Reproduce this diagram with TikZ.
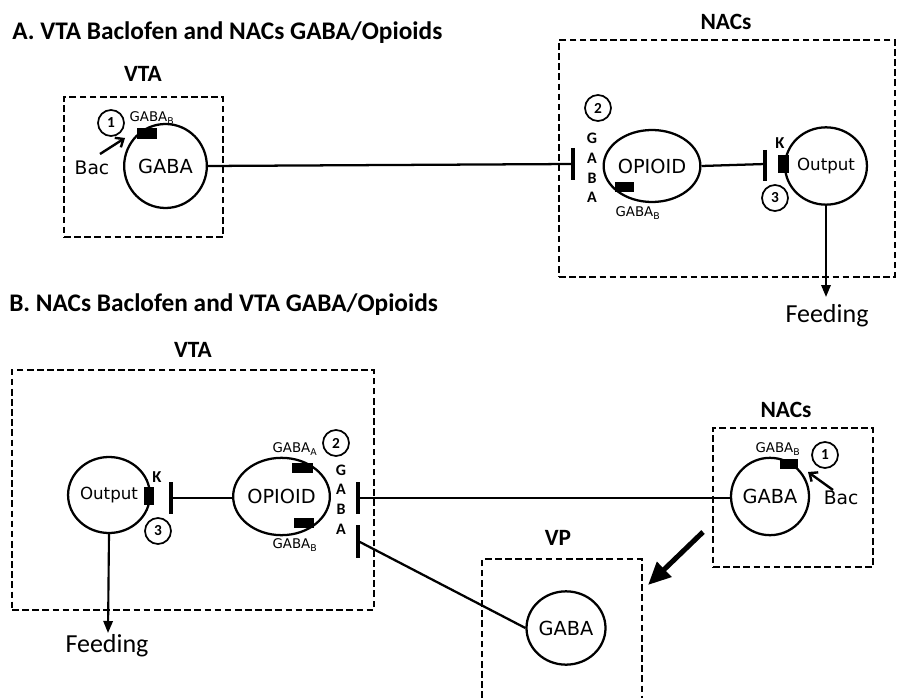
\documentclass[tikz,border=0pt]{standalone}
\usepackage{fontspec}
\setmainfont{DejaVu Sans}
\newfontfamily\calfont{Carlito}
\usetikzlibrary{shapes.geometric,arrows.meta}
\begin{document}
\begin{tikzpicture}[x=0.75pt,y=-0.75pt,
  region/.style={draw, line width=1.6pt, dash pattern=on 5pt off 2.6pt, rectangle, inner sep=0pt},
  cell/.style={draw, ellipse, line width=1.7pt, inner sep=0pt, font=\fontsize{14.5}{16}\selectfont},
  outcell/.style={cell, font=\fontsize{12.5}{14}\selectfont},
  rcpt/.style={fill=black, rectangle, inner sep=0pt},
  num/.style={draw, circle, line width=1.3pt, minimum size=19.5pt, inner sep=0pt, font=\calfont\bfseries\fontsize{11.5}{12}\selectfont},
  title/.style={anchor=west, inner sep=0pt, font=\calfont\bfseries\fontsize{19}{21}\selectfont},
  area/.style={inner sep=0pt, font=\calfont\bfseries\fontsize{17.5}{19}\selectfont},
  small/.style={inner sep=0pt, font=\fontsize{10}{11}\selectfont},
  letters/.style={inner sep=0pt, align=center, font=\calfont\bfseries\fontsize{12}{14.8}\selectfont},
  ktxt/.style={inner sep=0pt, font=\calfont\bfseries\fontsize{12.5}{13}\selectfont},
  body/.style={inner sep=0pt, font=\fontsize{14}{16}\selectfont},
  feed/.style={inner sep=0pt, font=\calfont\fontsize{19.5}{21}\selectfont},
  conn/.style={line width=1.7pt},
  bar/.style={line width=2.3pt},
  feedarrow/.style={line width=1.6pt, -{Triangle[length=9pt,width=7pt]}},
  bacarrow/.style={line width=1.8pt, -{Straight Barb[length=5pt,width=8.5pt]}},
  bigarrow/.style={line width=3.8pt, -{Triangle[length=17pt,width=15pt]}},
]
\useasboundingbox (0,0) rectangle (912,698);

% ================= A =================
\node[title] (titleA) at (12,33) {A. VTA Baclofen and NACs GABA/Opioids};

% VTA (A)
\node[area] (vtaAlab) at (143,74) {VTA};
\node[region, minimum width=119.25pt, minimum height=105pt] (vtaA) at (143.5,167) {};
\node[cell, minimum width=62pt, minimum height=63pt] (gabaA) at (165.5,166) {GABA};
\node[rcpt, minimum width=15pt, minimum height=8.25pt] (recA1) at (147,133.5) {};
\node[small] (gbA1) at (152,118) {GABA\textsubscript{B}};
\node[num] (n1A) at (111,123) {1};
\node[body] (bacA) at (92,168) {Bac};
\coordinate (bacAtip) at (125,138);
\draw[bacarrow] (100,154) -- (bacAtip);

% NACs (A)
\node[area] (nacAlab) at (726,22) {NACs};
\node[region, minimum width=252pt, minimum height=177.75pt] (nacA) at (727,158.5) {};
\coordinate (barA1) at (573,164);
\draw[bar] (573,148) -- (573,180);
\draw[conn] (gabaA.east) -- (barA1);
\node[num] (n2A) at (598,108) {2};
\node[letters] (lettersA) at (592,168) {G\\A\\B\\A};
\node[cell, minimum width=60pt, minimum height=54pt] (opA) at (652,166) {OPIOID};
\node[rcpt, minimum width=14.25pt, minimum height=7.5pt] (recA2) at (624.5,187) {};
\node[small] (gbA2) at (638,213) {GABA\textsubscript{B}};
\coordinate (barA2) at (765,164);
\draw[bar] (765,150) -- (765,181);
\draw[conn] (opA.east) -- (barA2);
\node[ktxt] (kA) at (780,143) {K};
\node[rcpt, minimum width=8.25pt, minimum height=13.5pt] (recA3) at (783.5,164) {};
\node[outcell, minimum width=60pt, minimum height=58pt] (outA) at (826,166) {Output};
\node[num] (n3A) at (775,198) {3};
\node[feed] (feedA) at (827,316) {Feeding};
\coordinate (feedAtip) at (826,297);
\draw[feedarrow] (outA.south) -- (feedAtip);

% ================= B =================
\node[title] (titleB) at (9,305) {B. NACs Baclofen and VTA GABA/Opioids};

% VTA (B)
\node[area] (vtaBlab) at (193,350) {VTA};
\node[region, minimum width=271.5pt, minimum height=180pt] (vtaB) at (193,490) {};
\node[outcell, minimum width=59pt, minimum height=57pt] (outB) at (109,495) {Output};
\node[rcpt, minimum width=7.5pt, minimum height=13.5pt] (recB3) at (149,496) {};
\node[ktxt] (kB) at (157,477) {K};
\node[num] (n3B) at (158,531) {3};
\node[cell, minimum width=58pt, minimum height=58pt] (opB) at (281.5,496.5) {OPIOID};
\coordinate (barB1) at (171,498);
\draw[bar] (171,482) -- (171,514);
\draw[conn] (barB1) -- (opB.west |- barB1);
\node[rcpt, minimum width=15.75pt, minimum height=7.5pt] (recB1) at (302.5,468) {};
\node[rcpt, minimum width=15pt, minimum height=7.5pt] (recB2) at (304,523) {};
\node[small] (gbB1) at (295,449) {GABA\textsubscript{A}};
\node[small] (gbB2) at (295,545) {GABA\textsubscript{B}};
\node[num] (n2B) at (336,443) {2};
\node[letters] (lettersB) at (341,499.5) {G\\A\\B\\A};
\coordinate (barB2) at (358,498);
\draw[bar] (358,482) -- (358,514);
\coordinate (barB3) at (358,541);
\draw[bar] (358,525) -- (358,558);

% NACs (B)
\node[area] (nacBlab) at (786,410) {NACs};
\node[region, minimum width=120pt, minimum height=104.25pt] (nacB) at (793,497.5) {};
\node[cell, minimum width=58.5pt, minimum height=58pt] (gabaB) at (770,496.5) {GABA};
\node[rcpt, minimum width=14pt, minimum height=7.5pt] (recB4) at (789,463.5) {};
\node[small] (gbB3) at (778,449) {GABA\textsubscript{B}};
\node[num] (n1B) at (825,455) {1};
\node[body] (bacB) at (841,498) {Bac};
\coordinate (bacBtip) at (808,472);
\draw[bacarrow] (833,490) -- (bacBtip);
\draw[conn] (barB2) -- (gabaB.west |- barB2);

% VP
\node[area] (vplab) at (558,538) {VP};
\draw[line width=1.6pt, dash pattern=on 5pt off 2.6pt] (482,698) -- (482,559) -- (642,559) -- (642,698);
\node[cell, minimum width=59.25pt, minimum height=55pt] (gabaVP) at (566,628) {GABA};
\draw[conn] (barB3) -- (gabaVP.west);

% big arrow NACs -> VP
\coordinate (bigstart) at (703,532);
\coordinate (bigend) at (648,585);
\draw[bigarrow] (bigstart) -- (bigend);

% Feeding (B)
\node[feed] (feedB) at (107,646) {Feeding};
\coordinate (feedBtip) at (108,633);
\draw[feedarrow] (outB.south) -- (feedBtip);
\end{tikzpicture}
\end{document}
